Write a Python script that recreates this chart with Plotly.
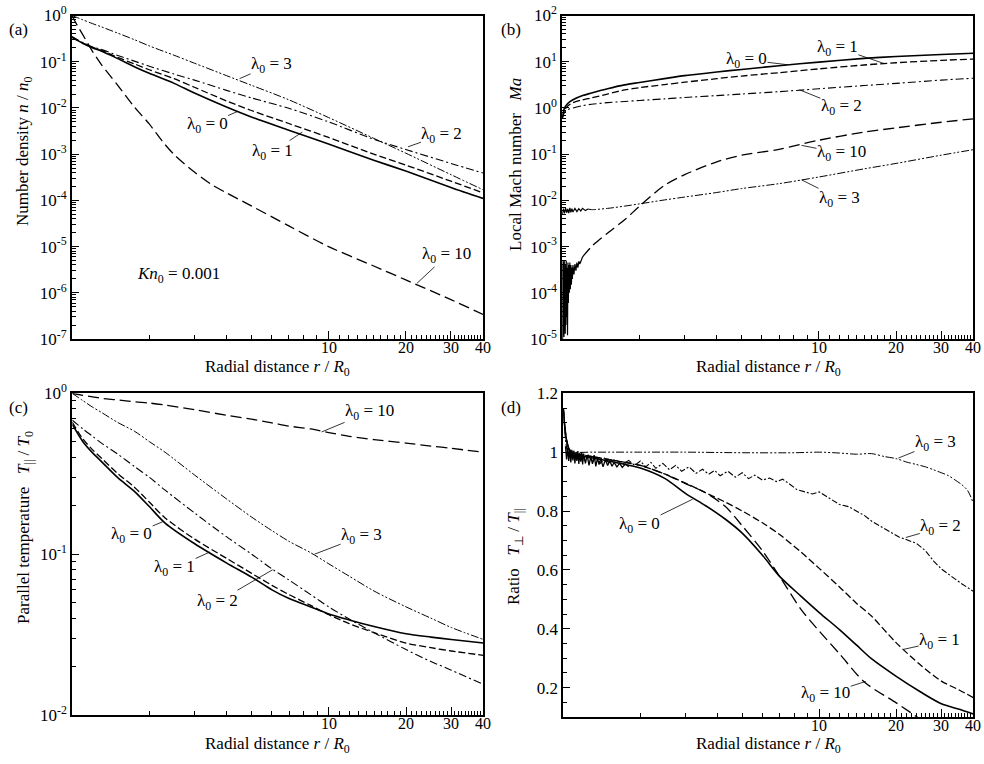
import math
import plotly.graph_objects as go

# ---------------- data ----------------
# Panel (a): number density n/n0
XA = [1, 1.05, 1.1, 1.2, 1.3, 1.5, 1.75, 2, 2.5, 3, 4, 5, 7, 10, 15, 20, 30, 40]
A_L0 = [0.34, 0.29, 0.25, 0.2, 0.17, 0.118, 0.078, 0.056, 0.034, 0.021, 0.0105, 0.0064, 0.0033, 0.00165, 0.00074, 0.00043, 0.00019, 0.00011]
A_L1 = [0.34, 0.29, 0.255, 0.205, 0.177, 0.125, 0.09, 0.067, 0.043, 0.028, 0.0142, 0.0088, 0.0046, 0.0023, 0.001, 0.00058, 0.00026, 0.000145]
A_L2 = [0.35, 0.3, 0.26, 0.21, 0.185, 0.138, 0.103, 0.08, 0.054, 0.04, 0.024, 0.0165, 0.0098, 0.005, 0.0021, 0.00126, 0.00063, 0.00039]
A_L3 = [1.0, 0.9, 0.81, 0.67, 0.57, 0.42, 0.30, 0.22, 0.138, 0.093, 0.05, 0.031, 0.015, 0.0062, 0.0022, 0.00105, 0.00036, 0.00017]
XA10 = [1, 1.05, 1.1, 1.2, 1.3, 1.5, 1.75, 2, 2.25, 2.5, 3, 3.5, 4, 5, 7, 10, 15, 20, 30, 40]
A_L10 = [1.0, 0.6, 0.39, 0.17, 0.088, 0.032, 0.0105, 0.0045, 0.0019, 0.00098, 0.00041, 0.00022, 0.000145, 0.000076, 0.000028, 1.0e-5, 3.8e-6, 1.9e-6, 7.1e-7, 3.4e-7]

# Panel (b): local Mach number
XB = [1, 1.02, 1.05, 1.1, 1.2, 1.3, 1.5, 1.75, 2, 2.5, 3, 4, 5, 7, 10, 15, 20, 30, 40]
B_L0 = [0.6, 1.0, 1.25, 1.5, 1.85, 2.1, 2.6, 3.15, 3.55, 4.3, 5.0, 6.0, 6.8, 8.2, 9.8, 11.8, 13.0, 14.3, 15.2]
B_L1 = [0.6, 0.9, 1.1, 1.3, 1.5, 1.65, 2.0, 2.45, 2.75, 3.2, 3.6, 4.3, 4.9, 5.8, 7.0, 8.5, 9.5, 10.7, 11.4]
B_L2 = [0.6, 0.8, 0.92, 1.0, 1.12, 1.2, 1.3, 1.38, 1.45, 1.57, 1.68, 1.85, 2.0, 2.25, 2.6, 3.05, 3.4, 4.0, 4.4]
XB3 = [1.26, 1.3, 1.5, 1.75, 2, 2.5, 3, 4, 5, 7, 10, 15, 20, 30, 40]
B_L3 = [6.5e-3, 6.3e-3, 6.7e-3, 7.5e-3, 8.4e-3, 0.0102, 0.0118, 0.0148, 0.018, 0.023, 0.032, 0.048, 0.063, 0.095, 0.125]
NB3_X = [1.0, 1.01, 1.02, 1.03, 1.04, 1.05, 1.06, 1.07, 1.08, 1.09, 1.10, 1.12, 1.14, 1.16, 1.18, 1.20, 1.23, 1.26]
NB3_Y = [5.0e-3, 6.6e-3, 5.2e-3, 6.8e-3, 5.4e-3, 6.5e-3, 5.3e-3, 6.9e-3, 5.5e-3, 6.6e-3, 5.6e-3, 6.7e-3, 5.7e-3, 6.6e-3, 5.9e-3, 6.7e-3, 6.0e-3, 6.5e-3]
XB10 = [1.2, 1.3, 1.5, 1.75, 2, 2.5, 3, 4, 5, 7, 10, 15, 20, 30, 40]
B_L10 = [6e-4, 1.0e-3, 1.95e-3, 3.8e-3, 7.5e-3, 0.021, 0.036, 0.068, 0.095, 0.127, 0.2, 0.3, 0.37, 0.49, 0.58]
NB10_X = [1.000, 1.003, 1.006, 1.009, 1.012, 1.015, 1.018, 1.021, 1.024, 1.027,
          1.030, 1.033, 1.036, 1.040, 1.044, 1.048, 1.052, 1.056, 1.060, 1.065,
          1.070, 1.075, 1.080, 1.085, 1.090, 1.095, 1.100, 1.110, 1.120, 1.130,
          1.140, 1.150, 1.160, 1.170, 1.185, 1.200]
NB10_Y = [4e-4, 1e-5, 5e-4, 1.2e-5, 4.5e-4, 1.1e-5, 5e-4, 1.5e-5, 3e-4, 1.3e-5,
          4e-4, 2e-5, 5e-4, 3e-5, 3.5e-4, 1.2e-5, 4.5e-4, 6e-5, 4e-4, 1e-4,
          4.5e-4, 1.2e-4, 4e-4, 1.5e-4, 3.5e-4, 2e-4, 4e-4, 2.5e-4, 4.2e-4, 3e-4,
          4.5e-4, 3.5e-4, 4.8e-4, 4.2e-4, 5e-4, 6e-4]

# Panel (c): parallel temperature
XC = [1, 1.1, 1.2, 1.3, 1.5, 1.75, 2, 2.3, 3, 4, 5, 6, 7, 8.5, 10, 12, 15, 20, 25, 30, 40]
C_L0 = [0.64, 0.5, 0.426, 0.376, 0.30, 0.245, 0.197, 0.156, 0.116, 0.088, 0.072, 0.06, 0.053, 0.047, 0.0425, 0.039, 0.0355, 0.032, 0.0305, 0.0295, 0.028]
C_L1 = [0.66, 0.52, 0.445, 0.395, 0.318, 0.26, 0.21, 0.168, 0.124, 0.094, 0.076, 0.064, 0.056, 0.048, 0.042, 0.037, 0.0325, 0.028, 0.0262, 0.025, 0.0235]
C_L2 = [0.68, 0.6, 0.54, 0.49, 0.42, 0.35, 0.30, 0.25, 0.18, 0.128, 0.1, 0.081, 0.069, 0.056, 0.047, 0.0395, 0.0325, 0.0255, 0.0215, 0.019, 0.0155]
C_L3 = [1.0, 0.9, 0.82, 0.76, 0.66, 0.58, 0.5, 0.43, 0.31, 0.22, 0.17, 0.14, 0.12, 0.102, 0.087, 0.073, 0.059, 0.047, 0.04, 0.035, 0.0295]
C_L10 = [1.0, 0.97, 0.95, 0.93, 0.91, 0.885, 0.87, 0.845, 0.79, 0.73, 0.69, 0.655, 0.625, 0.6, 0.57, 0.54, 0.515, 0.49, 0.47, 0.455, 0.43]

# Panel (d): temperature ratio
XD = [1, 1.01, 1.03, 1.06, 1.1, 1.2, 1.3, 1.5, 1.75, 2, 2.5, 3, 3.6, 4.3, 5, 6, 7, 8.5, 10, 12, 14, 16, 20, 25, 30, 35, 40]
D_L0 = [1.15, 1.1, 1.04, 1.005, 0.99, 0.985, 0.98, 0.97, 0.958, 0.946, 0.91, 0.86, 0.818, 0.772, 0.725, 0.65, 0.578, 0.51, 0.455, 0.397, 0.344, 0.298, 0.238, 0.184, 0.145, 0.127, 0.11]
D_L1 = [1.15, 1.1, 1.04, 1.005, 0.995, 0.99, 0.985, 0.975, 0.965, 0.955, 0.925, 0.895, 0.862, 0.83, 0.8, 0.76, 0.72, 0.66, 0.605, 0.542, 0.486, 0.443, 0.352, 0.275, 0.222, 0.193, 0.166]
XD10 = [1, 1.01, 1.03, 1.06, 1.1, 1.2, 1.3, 1.5, 1.75, 2, 2.5, 3, 3.6, 4.3, 5, 6, 7, 8.5, 10, 12, 15, 20, 25]
D_L10 = [1.15, 1.1, 1.04, 1.005, 0.995, 0.99, 0.985, 0.975, 0.965, 0.955, 0.925, 0.893, 0.862, 0.815, 0.75, 0.665, 0.578, 0.465, 0.392, 0.315, 0.219, 0.148, 0.091]
XD2 = [1, 1.01, 1.02, 1.04, 1.06, 1.08, 1.1, 1.13, 1.16, 1.2,
       1.25, 1.3, 1.35, 1.4, 1.45, 1.5, 1.6, 1.7, 1.8, 1.9,
       2.0, 2.1, 2.2, 2.3, 2.45, 2.6, 2.75, 2.9, 3.1, 3.3,
       3.5, 3.7, 3.9, 4.1, 4.4, 4.7, 5.0, 5.3, 5.6, 6.0,
       6.4, 6.8, 7.2, 7.7, 8.2, 8.8, 9.4, 10, 11, 12,
       13, 14, 15, 16, 17.5, 19, 20.5, 22, 24, 26,
       28, 30, 32, 34, 36, 38, 40]
D_L2 = [1.15, 1.1, 1.04, 0.99, 1.01, 0.98, 1.0, 0.975, 0.995, 0.97,
        0.99, 0.965, 0.985, 0.962, 0.98, 0.965, 0.975, 0.958, 0.972, 0.955,
        0.97, 0.95, 0.965, 0.945, 0.962, 0.94, 0.955, 0.935, 0.95, 0.928,
        0.942, 0.925, 0.938, 0.92, 0.935, 0.915, 0.93, 0.91, 0.922, 0.905,
        0.912, 0.9, 0.908, 0.89, 0.872, 0.865, 0.858, 0.865, 0.842, 0.822,
        0.815, 0.8, 0.785, 0.766, 0.745, 0.728, 0.712, 0.703, 0.69, 0.665,
        0.63, 0.603, 0.585, 0.567, 0.553, 0.54, 0.527]
XD3 = [1, 1.01, 1.03, 1.06, 1.1, 1.3, 1.6, 2, 3, 5, 8, 10, 12, 14, 16, 18, 20, 22, 24, 26, 28, 30, 32, 34, 36, 38, 40]
D_L3 = [1.15, 1.1, 1.04, 1.005, 1.0, 1.0, 1.0, 1.0, 1.0, 0.998, 0.998, 1.0, 0.997, 0.993, 0.995, 0.985, 0.978, 0.966, 0.958, 0.95, 0.94, 0.93, 0.92, 0.905, 0.89, 0.87, 0.827]
ND_X = [1.02, 1.03, 1.04, 1.05, 1.06, 1.07, 1.08, 1.09, 1.10, 1.11,
        1.12, 1.13, 1.14, 1.15, 1.16, 1.17, 1.18, 1.19, 1.20, 1.22,
        1.24, 1.26, 1.28, 1.30, 1.32, 1.34, 1.36, 1.38, 1.40, 1.43,
        1.46, 1.49, 1.52, 1.55, 1.58, 1.62, 1.66, 1.70, 1.75, 1.80]
ND_Y = [1.02, 0.975, 1.015, 0.97, 1.01, 0.965, 1.008, 0.972, 1.005, 0.962,
        1.0, 0.97, 1.004, 0.96, 0.998, 0.968, 1.0, 0.958, 0.995, 0.962,
        0.99, 0.955, 0.985, 0.96, 0.99, 0.952, 0.98, 0.958, 0.978, 0.95,
        0.975, 0.955, 0.97, 0.952, 0.965, 0.95, 0.962, 0.948, 0.96, 0.95]

# x tick labels (shared by all panels)
XTICKS = [10, 20, 30, 40]

# curve labels: (lambda value, tip x, tip y, text offset px x, text offset px y)
LAB_A = [("3", 4.5, 0.043, 32, -14), ("2", 20.4, 1.44e-3, 34, -12), ("0", 4.4, 8.3e-3, -30, 13),
         ("1", 7.9, 3.0e-3, -30, 20), ("10", 22.1, 1.6e-6, 30, -28)]
LAB_B = [("0", 7.55, 8.6, -41, -5), ("1", 18, 9.1, -47, -16), ("2", 8.4, 2.47, 42, 17),
         ("10", 8.56, 0.155, 40, 8), ("3", 8.56, 0.0278, 38, 19)]
LAB_C = [("10", 9.37, 0.575, 48, -20), ("0", 2.25, 0.159, -31, 13), ("1", 3.43, 0.103, -35, 16),
         ("2", 6.04, 0.08, -55, 32), ("3", 8.8, 0.1, 47, -18)]
LAB_D = [("3", 20.4, 0.98, 37, -15), ("2", 21.8, 0.71, 35, -10), ("0", 3.2, 0.84, -53, 26),
         ("1", 21.4, 0.33, 36, -8), ("10", 15.2, 0.221, -40, 13)]

# ---------------- styling ----------------
FONT = "Liberation Serif"
W, H = 984, 764
STY = {"0": ("solid", 1.6), "1": ("7px,3px", 1.3), "2": ("8px,3px,2px,3px", 1.1),
       "3": ("8px,2px,2px,2px,2px,2px", 1.0), "10": ("11px,5px", 1.3)}

fig = go.Figure()


def add(idx, x, y, key=None, dash=None, width=None):
    shape = "spline"
    if key is not None:
        dash, width = STY[key]
    else:
        shape = "linear"
    s = "" if idx == 1 else str(idx)
    fig.add_trace(go.Scatter(x=x, y=y, mode="lines", xaxis="x" + s, yaxis="y" + s,
                             line=dict(color="black", width=width, dash=dash, shape=shape,
                                       smoothing=0.8 if shape == "spline" else None),
                             hoverinfo="skip", showlegend=False))


# (a)
add(1, XA10, A_L10, "10")
add(1, XA, A_L3, "3")
add(1, XA, A_L2, "2")
add(1, XA, A_L1, "1")
add(1, XA, A_L0, "0")
# (b)
add(2, NB10_X, NB10_Y, dash="solid", width=1.2)
add(2, XB10, B_L10, "10")
add(2, NB3_X, NB3_Y, dash="solid", width=1.2)
add(2, XB3, B_L3, "3")
add(2, XB, B_L2, "2")
add(2, XB, B_L1, "1")
add(2, XB, B_L0, "0")
# (c)
add(3, XC, C_L10, "10")
add(3, XC, C_L3, "3")
add(3, XC, C_L2, "2")
add(3, XC, C_L1, "1")
add(3, XC, C_L0, "0")
# (d)
add(4, ND_X, ND_Y, dash="solid", width=1.3)
add(4, XD3, D_L3, "3")
add(4, XD2, D_L2, dash="6px,2px,2px,2px", width=1.1)
add(4, XD10, D_L10, "10")
add(4, XD, D_L1, "1")
add(4, XD, D_L0, "0")

# ---------------- axes ----------------
XMINOR = list(range(2, 10)) + list(range(11, 20)) + list(range(21, 30)) + list(range(31, 40))
TICKFONT = dict(family=FONT, size=17, color="black")
XTICKFONT = dict(family=FONT, size=16, color="black")


def xaxis(domain, anchor):
    return dict(type="log", range=[0, math.log10(40)], domain=domain, anchor=anchor,
                automargin=False, showticklabels=False,
                tickmode="array", tickvals=XTICKS,
                ticks="inside", ticklen=8, tickwidth=1, tickcolor="black",
                minor=dict(tickmode="array", tickvals=XMINOR, ticks="inside", ticklen=4,
                           tickwidth=1, tickcolor="black", showgrid=False),
                showline=True, linewidth=2, linecolor="black", mirror=True,
                showgrid=False, zeroline=False, tickfont=TICKFONT)


def ylog(domain, anchor, lo, hi):
    vals = [10.0 ** n for n in range(lo, hi + 1)]
    txt = ["10<sup>%d</sup>" % n for n in range(lo, hi + 1)]
    minor = [k * 10.0 ** n for n in range(lo, hi) for k in range(2, 10)]
    return dict(type="log", range=[lo, hi], domain=domain, anchor=anchor,
                automargin=False,
                tickmode="array", tickvals=vals, ticktext=txt,
                ticks="inside", ticklen=7, tickwidth=1, tickcolor="black",
                minor=dict(tickmode="array", tickvals=minor, ticks="inside", ticklen=4,
                           tickwidth=1, tickcolor="black", showgrid=False),
                showline=True, linewidth=2, linecolor="black", mirror=True,
                showgrid=False, zeroline=False, tickfont=TICKFONT)


def px(x0, x1):
    return [x0 / W, x1 / W]


def py(top, bottom):
    return [1 - bottom / H, 1 - top / H]


ylin = dict(type="linear", range=[0.1, 1.2], domain=py(393.3, 717), anchor="x4",
            automargin=False,
            tickmode="array", tickvals=[0.2, 0.4, 0.6, 0.8, 1.0, 1.2],
            ticktext=["0.2", "0.4", "0.6", "0.8", "1", "1.2"],
            ticks="inside", ticklen=7, tickwidth=1, tickcolor="black",
            minor=dict(tickmode="linear", tick0=0, dtick=0.05, ticks="inside", ticklen=4,
                       tickwidth=1, tickcolor="black", showgrid=False),
            showline=True, linewidth=2, linecolor="black", mirror=True,
            showgrid=False, zeroline=False, tickfont=TICKFONT)

BOTTOMS = {1: 339, 2: 339, 3: 715, 4: 717}

fig.update_layout(
    template="none",
    width=W, height=H, margin=dict(l=0, r=0, t=0, b=0, autoexpand=False),
    paper_bgcolor="white", plot_bgcolor="white", showlegend=False,
    font=dict(family=FONT, size=16, color="black"),
    xaxis=xaxis(px(72, 483), "y"), yaxis=ylog(py(15.5, 339), "x", -7, 0),
    xaxis2=xaxis(px(562.3, 973.3), "y2"), yaxis2=ylog(py(15.5, 339), "x2", -5, 2),
    xaxis3=xaxis(px(72.3, 483.3), "y3"), yaxis3=ylog(py(393.3, 715), "x3", -2, 0),
    xaxis4=xaxis(px(563.3, 973.3), "y4"), yaxis4=ylin,
)

# ---------------- annotations ----------------
ann = []


def text_at(x, y, s, angle=0, size=17):
    ann.append(dict(x=x / W, y=1 - y / H, xref="paper", yref="paper", text=s, showarrow=False,
                    textangle=angle, xanchor="center", yanchor="middle",
                    font=dict(family=FONT, size=size, color="black")))


# x tick labels placed just under each axis
for idx, bottom in BOTTOMS.items():
    s = "" if idx == 1 else str(idx)
    for v in XTICKS:
        ann.append(dict(x=math.log10(v), y=1 - bottom / H, xref="x" + s, yref="paper",
                        text=str(v), showarrow=False, xanchor="center", yanchor="top",
                        yshift=1, borderpad=0, font=XTICKFONT))

for lab, cx, cy in [("(a)", 18, 30), ("(b)", 511, 30), ("(c)", 18, 407), ("(d)", 511, 407)]:
    text_at(cx, cy, lab)

XT = "Radial distance <i>r</i> / <i>R</i><sub>0</sub>"
for cx, cy in [(277, 368), (768, 368), (277, 745), (768, 745)]:
    text_at(cx, cy, XT)

SP = "\u00a0\u00a0\u00a0"
text_at(24, 151, "Number density <i>n</i> / <i>n</i><sub>0</sub>", -90)
text_at(515, 165, "Local Mach number" + SP + "<i>Ma</i>", -90)
text_at(25, 528, "Parallel temperature" + SP + "<i>T</i><sub>||</sub> / <i>T</i><sub>0</sub>", -90)
text_at(515, 557, "Ratio" + SP + "<i>T</i><sub>⊥</sub> / <i>T</i><sub>||</sub>", -90)
text_at(178, 275, "<i>Kn</i><sub>0</sub> = 0.001")


def curve_labels(idx, labs, ylogaxis):
    s = "" if idx == 1 else str(idx)
    for lam, x, y, ox, oy in labs:
        ann.append(dict(x=math.log10(x), y=math.log10(y) if ylogaxis else y,
                        xref="x" + s, yref="y" + s,
                        text="λ<sub>0</sub> = " + lam, showarrow=True, arrowhead=0,
                        arrowwidth=0.8, arrowcolor="black", ax=ox, ay=oy,
                        font=dict(family=FONT, size=17, color="black"), borderpad=0))


curve_labels(1, LAB_A, True)
curve_labels(2, LAB_B, True)
curve_labels(3, LAB_C, True)
curve_labels(4, LAB_D, False)

fig.update_layout(annotations=ann)
fig.write_html("out.html", config={"displayModeBar": False, "staticPlot": True},
               post_script="document.body.style.margin='0px';document.body.style.overflow='hidden';")
